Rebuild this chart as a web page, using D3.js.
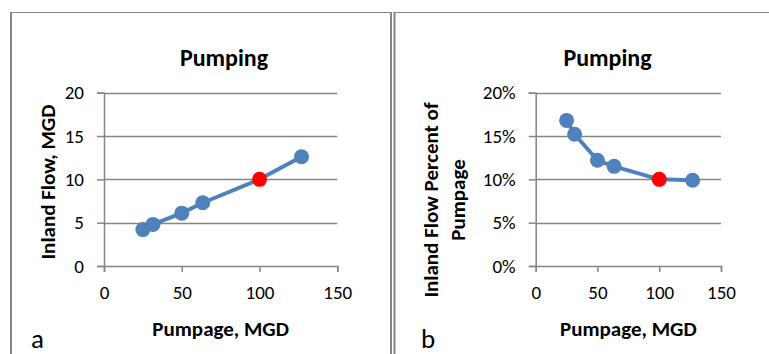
<!DOCTYPE html>
<html>
<head>
<meta charset="utf-8">
<script src="https://cdn.jsdelivr.net/npm/d3@7"></script>
<style>
  body { margin: 0; background: #fff; }
  svg { display: block; font-family: Carlito, Calibri, Lato, sans-serif; }
</style>
</head>
<body>
<div id="chart"></div>
<script>
// data
var pumpage = [25, 31.5, 50, 63.5, 100, 127];
var inlandFlow = [4.2, 4.8, 6.1, 7.3, 10, 12.6];
var inlandPct = [0.168, 0.152, 0.122, 0.115, 0.100, 0.099];
var highlight = 4; // the red point (100 MGD)

var xTicks = [0, 50, 100, 150];
var flowTicks = [0, 5, 10, 15, 20];
var pctTicks = [0, 0.05, 0.10, 0.15, 0.20];

var W = 769, H = 354;
var grey = "#868686", blue = "#4f81bd";

var svg = d3.select("#chart").append("svg")
    .attr("width", W)
    .attr("height", H);

// frames round the two chart boxes
svg.append("path")
    .attr("d", "M11,354V12.5H391.5")
    .attr("fill", "none").attr("stroke", grey).attr("stroke-width", 1);
svg.append("line").attr("x1", 11).attr("x2", 11).attr("y1", 12).attr("y2", H)
    .attr("stroke", grey).attr("stroke-width", 2);
svg.append("line").attr("x1", 391).attr("x2", 391).attr("y1", 12).attr("y2", H)
    .attr("stroke", grey).attr("stroke-width", 2);
svg.append("line").attr("x1", 394.5).attr("x2", 394.5).attr("y1", 12).attr("y2", H)
    .attr("stroke", grey).attr("stroke-width", 2);
svg.append("line").attr("x1", 394).attr("x2", W).attr("y1", 12.5).attr("y2", 12.5)
    .attr("stroke", grey).attr("stroke-width", 1);

function panel(opt) {
    var x = d3.scaleLinear().domain([0, 150]).range([opt.left, opt.right]);
    var y = d3.scaleLinear().domain([0, opt.yMax]).range([266, 92.7]);

    var g = svg.append("g");

    // gridlines
    g.append("g").selectAll("line")
        .data(opt.yTicks.slice(1))
        .join("line")
        .attr("x1", opt.left).attr("x2", opt.right)
        .attr("y1", function(d) { return Math.round(y(d)) + 0.5; })
        .attr("y2", function(d) { return Math.round(y(d)) + 0.5; })
        .attr("stroke", grey).attr("stroke-width", 1.5);

    // y axis
    var ya = g.append("g")
        .attr("transform", "translate(" + opt.left + ",0)")
        .call(d3.axisLeft(y).tickValues(opt.yTicks).tickFormat(opt.fmt).tickSize(7).tickPadding(13));
    // x axis
    var xa = g.append("g")
        .attr("transform", "translate(0,266)")
        .call(d3.axisBottom(x).tickValues(xTicks).tickSize(6).tickPadding(14));

    [ya, xa].forEach(function(a) {
        a.select(".domain").attr("stroke", grey).attr("stroke-width", 1.5);
        a.selectAll(".tick line").attr("stroke", grey).attr("stroke-width", 1.5);
        a.selectAll("text")
            .attr("font-family", "Carlito, Calibri, Lato, sans-serif")
            .attr("font-size", 19).attr("fill", "#000");
    });

    // the series
    var line = d3.line()
        .x(function(d) { return x(d[0]); })
        .y(function(d) { return y(d[1]); });
    var pts = d3.zip(pumpage, opt.values);

    g.append("path")
        .datum(pts)
        .attr("d", line)
        .attr("fill", "none")
        .attr("stroke", blue)
        .attr("stroke-width", 4)
        .attr("stroke-linejoin", "round");

    g.append("g").selectAll("circle")
        .data(pts)
        .join("circle")
        .attr("cx", function(d) { return x(d[0]); })
        .attr("cy", function(d) { return y(d[1]); })
        .attr("r", 7.5)
        .attr("fill", function(d, i) { return i === highlight ? "#ff0000" : blue; });

    // titles
    g.append("text")
        .attr("x", opt.titleX).attr("y", 66)
        .attr("text-anchor", "middle")
        .attr("font-size", 24).attr("font-weight", "bold")
        .text("Pumping");

    g.append("text")
        .attr("x", (opt.left + opt.right) / 2).attr("y", 336)
        .attr("text-anchor", "middle")
        .attr("font-size", 21).attr("font-weight", "bold")
        .text("Pumpage, MGD");

    var yt = g.append("text")
        .attr("transform", "translate(" + opt.yTitleX + "," + opt.yTitleY + ") rotate(-90)")
        .attr("text-anchor", "middle")
        .attr("font-size", 21).attr("font-weight", "bold");
    opt.yTitle.forEach(function(t, i) {
        yt.append("tspan").attr("x", 0).attr("dy", i === 0 ? 0 : 27).text(t);
    });

    g.append("text")
        .attr("x", opt.letterX).attr("y", 348)
        .attr("font-size", 27)
        .text(opt.letter);
}

panel({
    left: 104, right: 337.3, yMax: 20,
    values: inlandFlow, yTicks: flowTicks, fmt: d3.format("d"),
    titleX: 224, yTitleX: 55, yTitleY: 182, yTitle: ["Inland Flow, MGD"], letter: "a", letterX: 31
});

panel({
    left: 535.7, right: 721, yMax: 0.20,
    values: inlandPct, yTicks: pctTicks, fmt: d3.format(".0%"),
    titleX: 607.5, yTitleX: 438, yTitleY: 200, yTitle: ["Inland Flow Percent of", "Pumpage"], letter: "b", letterX: 421
});
</script>
</body>
</html>
